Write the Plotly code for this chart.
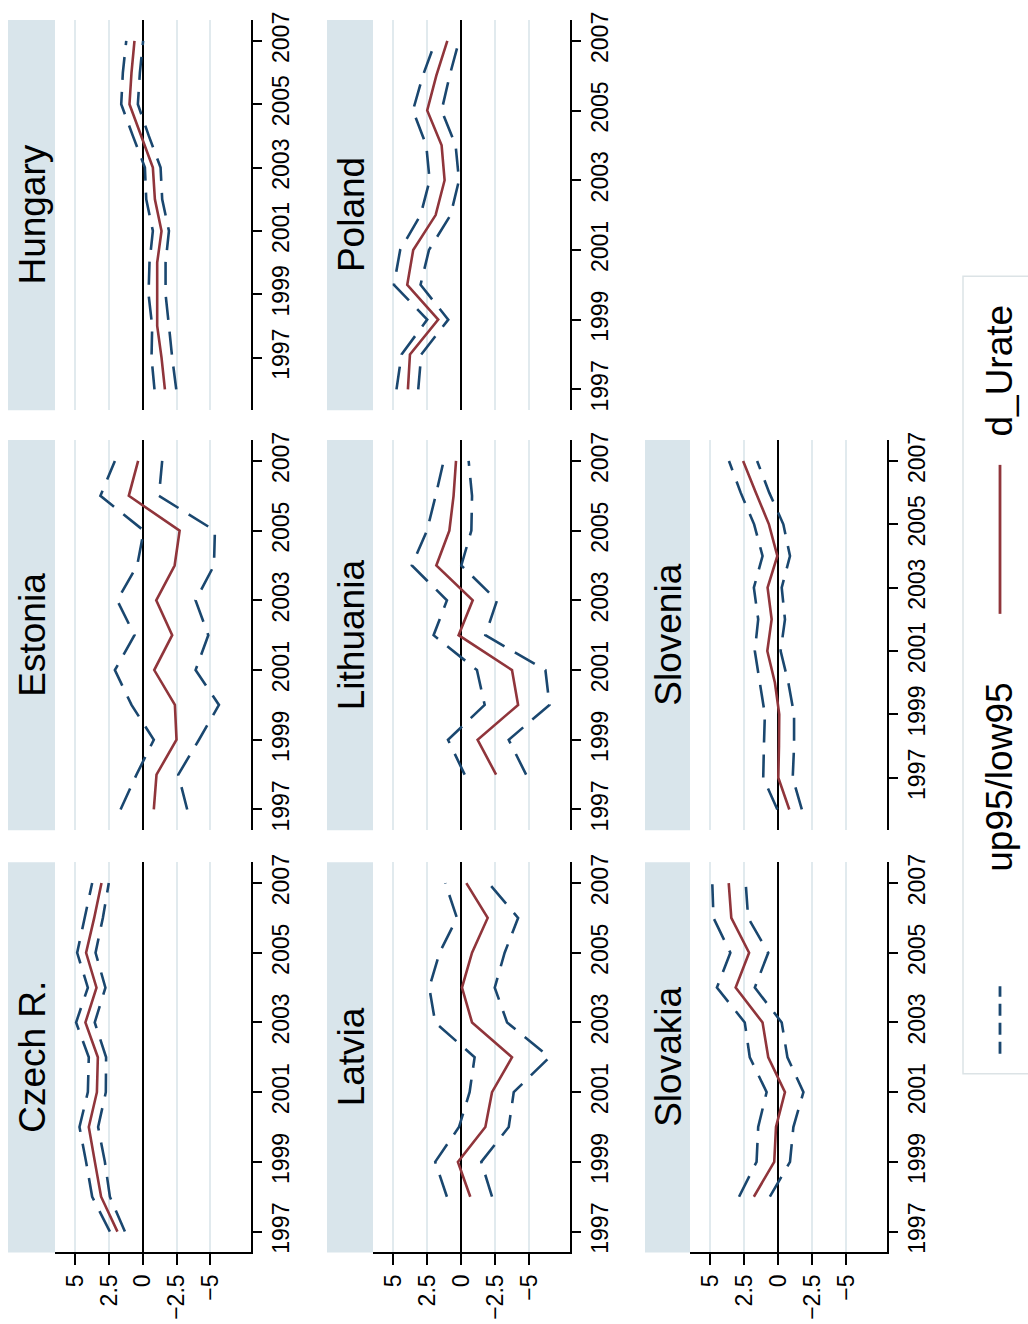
import plotly.graph_objects as go

# ---- data: change in unemployment rate with 95% bands, by country ----
czech_years = list(range(1997, 2008))
czech_d = [1.88, 3.09, 3.55, 4.0, 3.4, 3.33, 4.25, 3.43, 4.2, 3.6, 3.06]
czech_up = [2.44, 3.75, 4.2, 4.69, 4.07, 4.0, 4.94, 4.07, 4.86, 4.3, 3.75]
czech_low = [1.33, 2.44, 2.81, 3.31, 2.74, 2.72, 3.56, 2.77, 3.5, 2.96, 2.52]

estonia_years = list(range(1997, 2008))
estonia_d = [-0.81, -1.01, -2.49, -2.37, -0.84, -2.17, -0.99, -2.35, -2.72, 1.04, 0.35]
estonia_up = [1.65, 0.47, -0.81, 0.84, 2.07, 0.62, 1.9, 0.42, -0.07, 3.14, 2.07]
estonia_low = [-3.28, -2.62, -4.15, -5.63, -3.9, -4.84, -3.9, -5.26, -5.33, -1.19, -1.43]

hungary_years = list(range(1996, 2008))
hungary_d = [-1.63, -1.38, -1.06, -1.06, -1.06, -1.38, -0.89, -0.74, 0.13, 0.99, 0.84, 0.62]
hungary_up = [-0.86, -0.64, -0.69, -0.42, -0.49, -0.74, -0.25, -0.15, 0.74, 1.6, 1.48, 1.23]
hungary_low = [-2.47, -2.17, -1.93, -1.68, -1.68, -1.93, -1.43, -1.31, -0.44, 0.37, 0.22, -0.02]

latvia_years = list(range(1998, 2008))
latvia_d = [-0.66, 0.25, -1.77, -2.26, -3.73, -0.79, -0.05, -0.79, -1.94, -0.37]
latvia_up = [1.06, 1.92, 0.17, -0.61, -0.98, 1.92, 2.36, 1.6, 0.32, 1.18]
latvia_low = [-2.26, -1.47, -3.49, -3.86, -6.49, -3.37, -2.46, -3.19, -4.18, -2.01]

lithuania_years = list(range(1998, 2008))
lithuania_d = [-2.56, -1.2, -4.18, -3.73, 0.2, -0.84, 1.84, 0.88, 0.57, 0.39]
lithuania_up = [-0.25, 0.98, -1.72, -1.15, 2.04, 1.06, 3.64, 2.53, 1.89, 1.3]
lithuania_low = [-4.77, -3.49, -6.49, -6.19, -1.77, -2.63, 0.0, -0.74, -0.79, -0.54]

poland_years = list(range(1997, 2008))
poland_d = [3.93, 3.78, 1.7, 3.98, 3.54, 1.89, 1.23, 1.45, 2.51, 1.84, 1.03]
poland_up = [4.77, 4.4, 2.51, 4.96, 4.5, 3.0, 2.33, 2.58, 3.56, 2.83, 1.89]
poland_low = [3.17, 2.95, 0.96, 3.0, 2.38, 0.79, 0.17, 0.42, 1.45, 0.86, 0.17]

slovakia_years = list(range(1998, 2008))
slovakia_d = [1.8, 0.3, 0.17, -0.49, 0.74, 1.16, 3.14, 2.15, 3.46, 3.65]
slovakia_up = [2.89, 1.6, 1.48, 0.86, 2.1, 2.47, 4.52, 3.53, 4.77, 4.86]
slovakia_low = [0.62, -0.86, -1.11, -1.85, -0.67, -0.25, 1.73, 0.74, 2.22, 2.4]

slovenia_years = list(range(1996, 2008))
slovenia_d = [-0.81, 0.0, -0.05, -0.07, 0.25, 0.81, 0.49, 0.79, 0.07, 0.69, 1.65, 2.59]
slovenia_up = [0.07, 1.11, 1.06, 0.99, 1.36, 1.73, 1.48, 1.8, 1.16, 1.78, 2.77, 3.63]
slovenia_low = [-1.73, -1.06, -1.16, -1.16, -0.74, -0.17, -0.49, -0.25, -0.86, -0.37, 0.67, 1.56]

# first year covered by each panel's time axis
axis_start = {"Czech R.": 1997, "Estonia": 1997, "Hungary": 1996, "Latvia": 1997,
              "Lithuania": 1997, "Poland": 1997, "Slovakia": 1997, "Slovenia": 1996}

value_ticks = [-5, -2.5, 0, 2.5, 5]
year_ticks = [1997, 1999, 2001, 2003, 2005, 2007]

legend_band = "up95/low95"
legend_line = "d_Urate"

# ---- page geometry (the graph is laid out turned a quarter turn) ----
W, H = 1028, 1324
FONT = "Liberation Sans, Arial, Helvetica, sans-serif"
NAVY = "#1a476f"
MAROON = "#90353b"
GRID = "#e1eaee"
STRIP = "#d9e5eb"
TICK_SIZE = 23


def fx(p):
    return p / W


def fy(p):
    return 1 - p / H


col_px = [(55, 251), (373, 570), (690, 887)]
strip_px = [(8, 55), (327, 373), (645, 690)]
row_px = {"top": (12, 405), "mid": (435, 828), "bot": (860, 1253)}

panels = [
    ("Czech R.", 0, "bot", czech_years, czech_d, czech_up, czech_low),
    ("Estonia", 0, "mid", estonia_years, estonia_d, estonia_up, estonia_low),
    ("Hungary", 0, "top", hungary_years, hungary_d, hungary_up, hungary_low),
    ("Latvia", 1, "bot", latvia_years, latvia_d, latvia_up, latvia_low),
    ("Lithuania", 1, "mid", lithuania_years, lithuania_d, lithuania_up, lithuania_low),
    ("Poland", 1, "top", poland_years, poland_d, poland_up, poland_low),
    ("Slovakia", 2, "bot", slovakia_years, slovakia_d, slovakia_up, slovakia_low),
    ("Slovenia", 2, "mid", slovenia_years, slovenia_d, slovenia_up, slovenia_low),
]

fig = go.Figure()
layout = {}
shapes = []
annotations = []

for i, (name, col, row, yrs, d, up, low) in enumerate(panels, start=1):
    xa = "x" if i == 1 else f"x{i}"
    ya = "y" if i == 1 else f"y{i}"
    xkey = "xaxis" if i == 1 else f"xaxis{i}"
    ykey = "yaxis" if i == 1 else f"yaxis{i}"
    x0, x1 = col_px[col]
    top, bot = row_px[row]
    first = axis_start[name]
    pad = 0.06 * (2007 - first)
    show_vals = row == "bot"

    # values run along the horizontal, larger values to the left
    layout[xkey] = dict(
        domain=[fx(x0), fx(x1)], anchor=ya, range=[6.5, -8.0],
        tickvals=value_ticks, showgrid=True, gridcolor=GRID, gridwidth=1.6,
        zeroline=True, zerolinecolor="black", zerolinewidth=1.5,
        showline=show_vals, linecolor="black", linewidth=1.5,
        ticks="outside" if show_vals else "", ticklen=11, tickwidth=1.5, tickcolor="black",
        showticklabels=show_vals, tickangle=-90,
        tickfont=dict(family=FONT, size=TICK_SIZE, color="black"), fixedrange=True,
    )
    # years run upward, axis drawn on the right-hand side
    layout[ykey] = dict(
        domain=[fy(bot), fy(top)], anchor=xa, side="right",
        range=[first - pad, 2007 + pad], tickvals=year_ticks,
        showgrid=False, zeroline=False, showline=True, linecolor="black", linewidth=1.5,
        ticks="outside", ticklen=9, tickwidth=1.5, tickcolor="black",
        tickangle=-90, tickfont=dict(family=FONT, size=TICK_SIZE, color="black"), fixedrange=True,
    )

    for series in (up, low):
        fig.add_trace(go.Scatter(
            x=series, y=yrs, xaxis=xa, yaxis=ya, mode="lines",
            line=dict(color=NAVY, width=2.6, dash="23px,12px"), showlegend=False,
        ))
    fig.add_trace(go.Scatter(
        x=d, y=yrs, xaxis=xa, yaxis=ya, mode="lines",
        line=dict(color=MAROON, width=2.6), showlegend=False,
    ))

    # title strip
    sx0, sx1 = strip_px[col]
    shapes.append(dict(type="rect", xref="paper", yref="paper",
                       x0=fx(sx0), x1=fx(sx1), y0=fy(bot), y1=fy(top),
                       fillcolor=STRIP, line=dict(width=0), layer="below"))
    annotations.append(dict(text=name, xref="paper", yref="paper",
                            x=fx((sx0 + sx1) / 2 + 1), y=fy((top + bot) / 2),
                            textangle=-90, showarrow=False, xanchor="center", yanchor="middle",
                            font=dict(family=FONT, size=37, color="black")))

# ---- key ----
shapes.append(dict(type="rect", xref="paper", yref="paper",
                   x0=fx(963), x1=fx(1040), y0=fy(1073), y1=fy(270),
                   fillcolor="white", line=dict(color="#dce3e6", width=1.5)))
shapes.append(dict(type="line", xref="paper", yref="paper",
                   x0=fx(1000), x1=fx(1000), y0=fy(1053), y1=fy(985),
                   line=dict(color=NAVY, width=2.8, dash="12px,7px")))
shapes.append(dict(type="line", xref="paper", yref="paper",
                   x0=fx(1000), x1=fx(1000), y0=fy(610), y1=fy(460),
                   line=dict(color=MAROON, width=2.8)))
annotations.append(dict(text=legend_band, xref="paper", yref="paper",
                        x=fx(1000), y=fy(775), textangle=-90, showarrow=False,
                        xanchor="center", yanchor="middle",
                        font=dict(family=FONT, size=37, color="black")))
annotations.append(dict(text=legend_line, xref="paper", yref="paper",
                        x=fx(1000), y=fy(365), textangle=-90, showarrow=False,
                        xanchor="center", yanchor="middle",
                        font=dict(family=FONT, size=37, color="black")))

fig.update_layout(
    width=W, height=H, margin=dict(l=0, r=0, t=0, b=0),
    paper_bgcolor="white", plot_bgcolor="white",
    shapes=shapes, annotations=annotations, showlegend=False,
    **layout,
)

fig.write_html("out.html", config={"displayModeBar": False})
